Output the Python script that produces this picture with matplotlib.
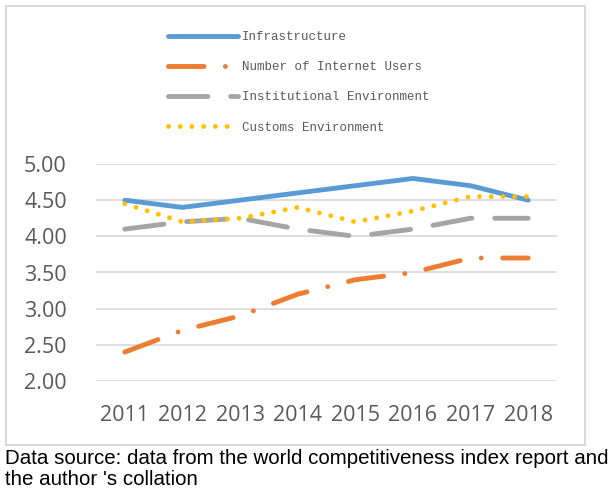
import matplotlib.pyplot as plt
from matplotlib.patches import Rectangle

# Data
years = ["2011", "2012", "2013", "2014", "2015", "2016", "2017", "2018"]
infrastructure = [4.50, 4.40, 4.50, 4.60, 4.70, 4.80, 4.70, 4.50]
internet_users = [2.40, 2.70, 2.90, 3.20, 3.40, 3.50, 3.70, 3.70]
institutional = [4.10, 4.20, 4.25, 4.10, 4.00, 4.10, 4.25, 4.25]
customs = [4.45, 4.20, 4.25, 4.40, 4.20, 4.35, 4.55, 4.55]
y_ticks = [2.0, 2.5, 3.0, 3.5, 4.0, 4.5, 5.0]

W, H = 614, 490
fig = plt.figure(figsize=(W / 100, H / 100), dpi=100)

# chart frame
fig.patches.append(Rectangle((6 / W, 1 - 445 / H), 579 / W, 439 / H,
                             transform=fig.transFigure, fill=False,
                             edgecolor="#D9D9D9", linewidth=1.5))

ax = fig.add_axes([96 / W, 1 - 381 / H, 461 / W, 217 / H])
x = list(range(len(years)))

LW = 3.5
ax.plot(x, infrastructure, color="#5B9BD5", lw=LW, solid_capstyle="round",
        label="Infrastructure")
l2, = ax.plot(x, internet_users, color="#ED7D31", lw=LW,
              dash_capstyle="round", label="Number of Internet Users")
l2.set_dashes((7.3, 4.4, 0.01, 4.4))
l3, = ax.plot(x, institutional, color="#A5A5A5", lw=LW,
              dash_capstyle="round", label="Institutional Environment")
l3.set_dashes((8.1, 4.7))
l4, = ax.plot(x, customs, color="#FFC000", lw=LW,
              dash_capstyle="round", label="Customs Environment")
l4.set_dashes((0.01, 2.4))

ax.set_xlim(-0.5, len(years) - 0.5)
ax.set_ylim(2.0, 5.0)
ax.set_xticks(x)
ax.set_xticklabels(years)
ax.set_yticks(y_ticks)
ax.set_yticklabels(["%.2f" % v for v in y_ticks])
ax.grid(axis="y", color="#D9D9D9", lw=1.2)
ax.set_axisbelow(True)
for s in ax.spines.values():
    s.set_visible(False)
ax.tick_params(length=0, labelsize=15.5, labelcolor="#595959")
ax.tick_params(axis="y", pad=21)
ax.tick_params(axis="x", pad=17)
for lab in ax.get_xticklabels() + ax.get_yticklabels():
    lab.set_fontfamily("Open Sans")

leg = fig.legend(loc="upper left", bbox_to_anchor=(157 / W, 1 - 20 / H),
                 frameon=False, handlelength=5.6, handletextpad=0.3,
                 labelspacing=1.45,
                 prop={"family": "Liberation Mono", "size": 9})
for t in leg.get_texts():
    t.set_color("#595959")

fig.text(5 / W, 1 - 449 / H,
         "Data source: data from the world competitiveness index report and\nthe author 's collation",
         ha="left", va="top", fontsize=14.8, family="Liberation Sans",
         linespacing=1.12)

fig.savefig("out.png", dpi=100)
